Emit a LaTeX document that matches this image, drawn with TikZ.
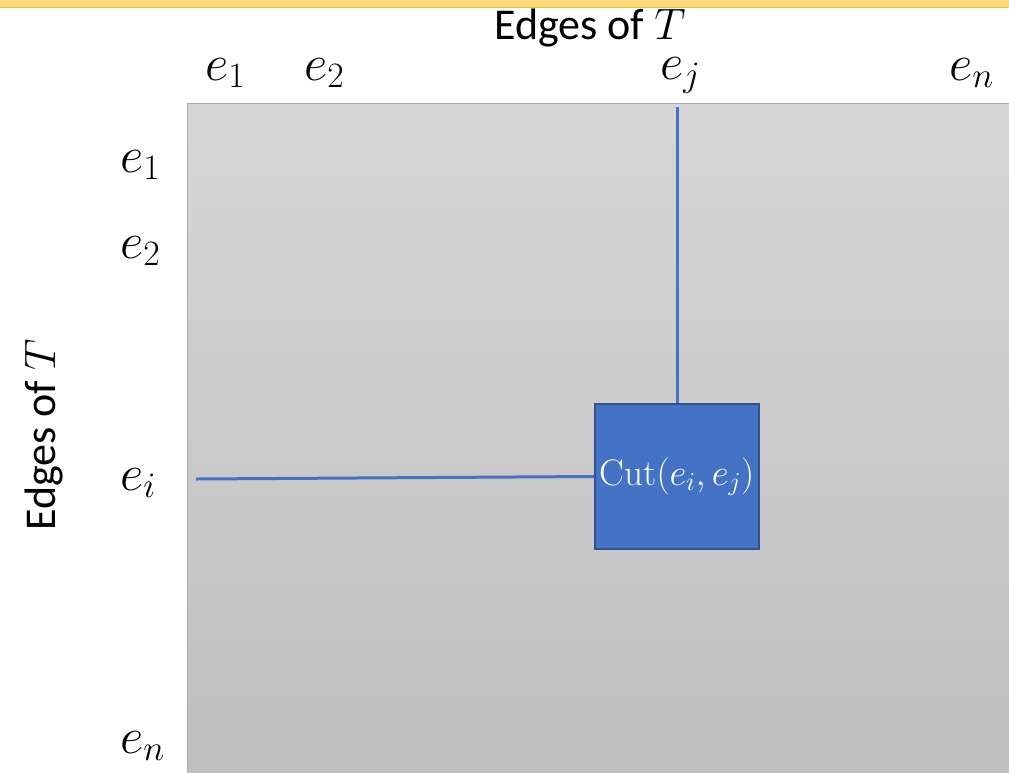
\documentclass[tikz,border=0pt]{standalone}
\usepackage{fix-cm}
\usepackage{fontspec}
\setmainfont{Carlito}
\usetikzlibrary{positioning,calc}
\definecolor{band}{HTML}{FFD97A}
\definecolor{bandedge}{HTML}{F2BC45}
\definecolor{gridtop}{HTML}{D6D6D6}
\definecolor{gridbot}{HTML}{BFBFBF}
\definecolor{gridedge}{HTML}{A8A8A8}
\definecolor{cutfill}{HTML}{4472C4}
\definecolor{cutedge}{HTML}{2F528F}
\tikzset{
  idx/.style={font=\fontsize{51}{56}\selectfont,inner sep=0pt,anchor=base west},
  axis/.style={font=\fontsize{44}{48}\selectfont,inner sep=0pt,anchor=base},
  link/.style={draw=cutfill,line width=3pt}
}

\begin{document}
\begin{tikzpicture}[x=1pt,y=-1pt]
  \useasboundingbox (0,0) rectangle (1009,772);
  % top band
  \fill[band] (0,0) rectangle (1009,7);
  \draw[bandedge,line width=1pt] (0,7) -- (1009,7);
  % matrix area
  \shade[top color=gridtop,bottom color=gridbot] (187,103) rectangle (1009,772);
  \draw[gridedge,line width=1pt] (187,772) -- (187,103) -- (1009,103);
  \node[draw=none,minimum width=822pt,minimum height=669pt,inner sep=0pt]
       (grid) at (598,437.5) {};
  % column labels
  \node[axis] (colhead) at (590,39) {Edges of \smash{$T$}};
  \node[idx] (c1) at (205,80) {$e_1$};
  \node[idx] (c2) at (304,80) {$e_2$};
  \node[idx] (cj) at (660,79) {$e_j$};
  \node[idx] (cn) at (949,80) {$e_n$};
  % row labels
  \node[axis,rotate=90] (rowhead) at (55,435) {Edges of $T$};
  \node[idx] (r1) at (120,172) {$e_1$};
  \node[idx] (r2) at (120,258) {$e_2$};
  \node[idx] (ri) at (120,490) {$e_i$};
  \node[idx] (rn) at (120,753) {$e_n$};
  % the cut cell
  \node[draw=cutedge,line width=1.5pt,fill=cutfill,minimum width=164pt,
        minimum height=145pt,inner sep=0pt,text=white,
        font=\fontsize{37}{40}\selectfont] (cut) at (677,476.5)
       {\fontspec{Latin Modern Roman}Cut$(e_i,e_j)$};
  \coordinate (colj) at (677,107);
  \coordinate (rowi) at (196,479);
  \draw[link] (colj) -- (cut.north);
  \draw[link] (rowi) -- (cut.west);
\end{tikzpicture}
\end{document}
